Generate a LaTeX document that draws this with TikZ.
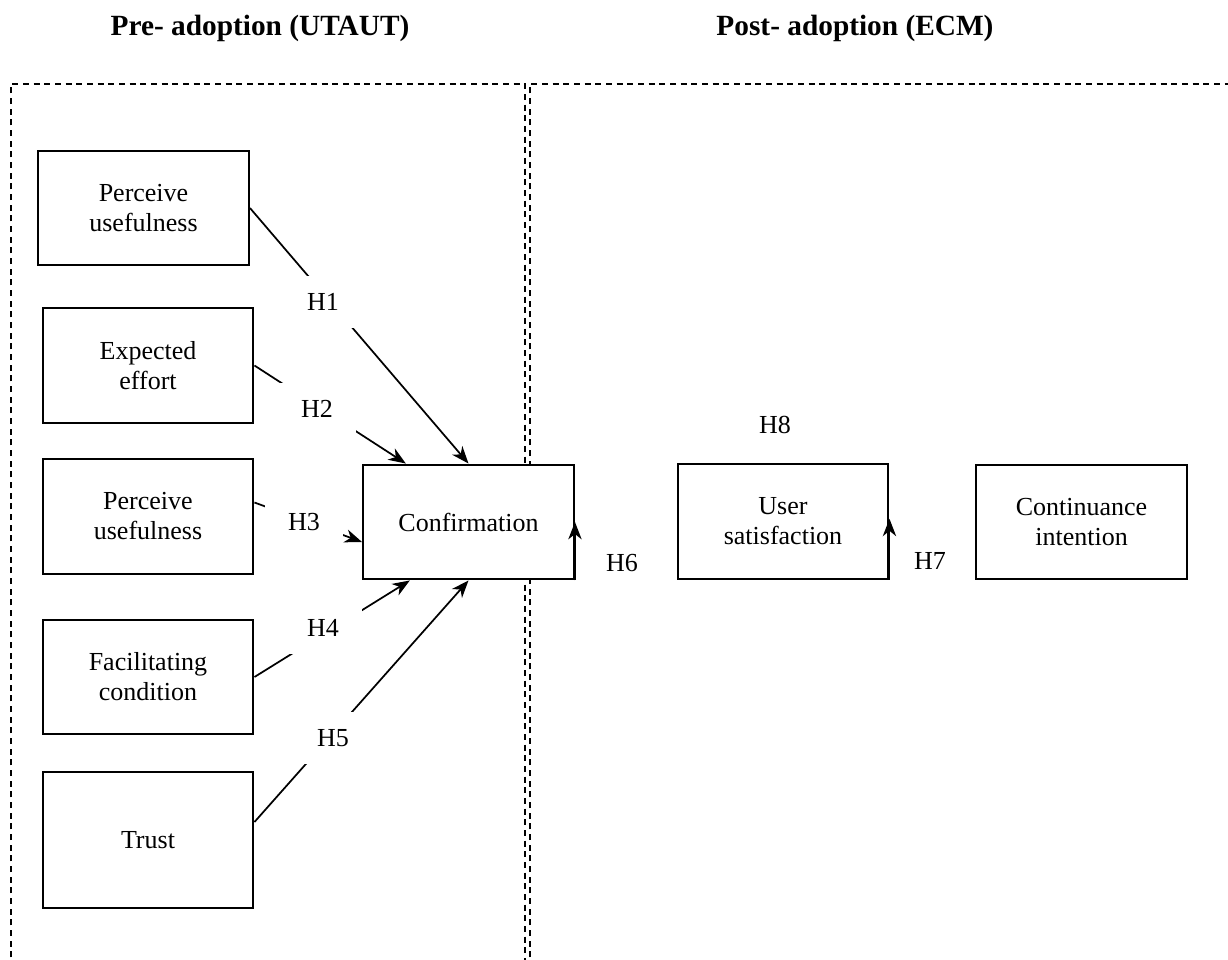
\documentclass[tikz,border=0pt]{standalone}
\usepackage{fontspec}
\setmainfont{Liberation Serif}
\usetikzlibrary{arrows.meta}
\begin{document}
\begin{tikzpicture}[x=0.75pt,y=-0.75pt,
 box/.style={draw, fill=white, line width=1.7pt, minimum width=158pt, minimum height=86pt, align=center, inner sep=0pt, font=\fontsize{19.5}{22.5}\selectfont},
 lbl/.style={fill=white, minimum width=58pt, minimum height=39pt, inner sep=0pt, font=\fontsize{19.5}{22.5}\selectfont},
 plain/.style={inner sep=0pt, font=\fontsize{19.5}{22.5}\selectfont},
 conn/.style={line width=1.3pt},
 arr/.style={conn, -{Stealth[length=13pt,width=10pt,inset=4pt]}},
 region/.style={dash pattern=on 4.5pt off 3.5pt, line width=1.3pt},
 ttl/.style={font=\bfseries\fontsize{22}{26}\selectfont, anchor=base, inner sep=0pt}]
\useasboundingbox (0,0) rectangle (1228,960);
% regions
\draw[region] (11,1000) -- (11,84) -- (525,84) -- (525,1000);
\draw[region] (530,1000) -- (530,84) -- (1240,84);
% titles
\node[ttl] (t1) at (260,35) {Pre- adoption (UTAUT)};
\node[ttl] (t2) at (855,35) {Post- adoption (ECM)};
% boxes
\node[box] (PU1) at (143.5,208) {Perceive\\usefulness};
\node[box] (EE) at (148,365.5) {Expected\\effort};
\node[box] (PU2) at (148,516.5) {Perceive\\usefulness};
\node[box] (FC) at (148,677) {Facilitating\\condition};
\node[box, minimum height=102pt] (TR) at (148,840) {Trust};
\node[box] (CF) at (468.5,522) {Confirmation};
\node[box] (US) at (783,521.5) {User\\satisfaction};
\node[box] (CI) at (1081.5,522) {Continuance\\intention};
% connectors
\draw[arr] (PU1.east) -- (CF.north);
\draw[arr] (EE.east) -- ([xshift=-47pt]CF.north);
\draw[arr] ([yshift=10.5pt]PU2.east) -- ([yshift=-15pt]CF.west);
\draw[arr] (FC.east) -- ([xshift=-44pt]CF.south);
\draw[arr] ([yshift=13.5pt]TR.east) -- (CF.south);
\draw[arr] (CF.south east) -- (CF.east);
\draw[arr] (US.south east) -- ([yshift=2pt]US.east);
% labels
\node[lbl] (H1) at (323,302) {H1};
\node[lbl] (H2) at (317,409) {H2};
\node[lbl] (H3) at (304,522) {H3};
\node[lbl] (H4) at (323,628) {H4};
\node[lbl] (H5) at (333,738) {H5};
\node[plain] (H6) at (622,563) {H6};
\node[plain] (H7) at (930,561) {H7};
\node[plain] (H8) at (775,425) {H8};
\end{tikzpicture}
\end{document}
